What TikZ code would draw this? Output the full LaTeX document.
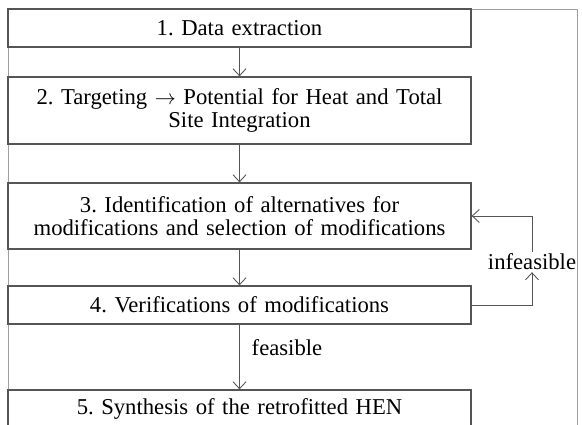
\documentclass[tikz,border=0pt]{standalone}
\usepackage{fontspec}
\setmainfont{Liberation Serif}
\usepackage{tikz}
\usetikzlibrary{arrows.meta, positioning}
\definecolor{BoxGray}{RGB}{85,85,85}
\definecolor{FrameGray}{RGB}{160,160,160}
\frenchspacing

\begin{document}
\begin{tikzpicture}[font=\fontsize{12.9}{12.8}\selectfont]
    \tikzset{
        stepbox/.style={rectangle, draw=BoxGray, line width=0.7pt, fill=white,
            minimum width=9.26cm, text width=9.1cm, align=center, inner sep=0pt},
        flow/.style={draw=BoxGray, line width=0.5pt,
            -{Straight Barb[length=1.4mm, width=2.6mm]}},
        tag/.style={inner sep=1pt}
    }
    \useasboundingbox (0,0) rectangle (11.64,-8.5);
    \draw[FrameGray, line width=0.5pt] (0.16,-9) -- (0.16,-0.18) -- (11.54,-0.18) -- (11.54,-9);
    \node[stepbox, minimum height=0.76cm] (extract) at (4.79,-0.56) {1. Data extraction};
    \node[stepbox, minimum height=1.34cm] (target) at (4.79,-2.21)
        {2. Targeting $\rightarrow$ Potential for Heat and Total\\Site Integration};
    \node[stepbox, minimum height=1.32cm] (ident) at (4.79,-4.32)
        {3. Identification of alternatives for\\modifications and selection of modifications};
    \node[stepbox, minimum height=0.76cm] (verify) at (4.79,-6.10) {4. Verifications of modifications};
    \node[stepbox, minimum height=0.76cm] (synth) at (4.79,-8.18) {5. Synthesis of the retrofitted HEN};
    \node[tag] (infeas) at (10.64,-5.24) {infeasible};
    \draw[flow] (extract) -- (target);
    \draw[flow] (target) -- (ident);
    \draw[flow] (ident) -- (verify);
    \draw[flow] (verify) -- node[tag, right=0.2cm, pos=0.35] (feas) {feasible} (synth);
    \draw[flow] (verify.east) -| (infeas.south);
    \draw[flow] (infeas.north) |- (ident.east);
\end{tikzpicture}
\end{document}
